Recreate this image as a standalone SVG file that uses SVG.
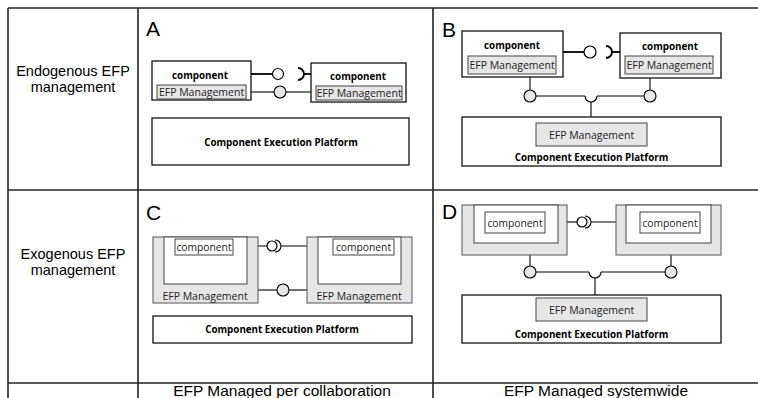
<svg xmlns="http://www.w3.org/2000/svg" width="758" height="398" viewBox="0 0 758 398">
<style>
.grid{stroke:#222;stroke-width:1.6;fill:none}
.lbl{font-family:"Liberation Sans",Arial,sans-serif;font-size:14.5px;fill:#000;text-anchor:middle}
.bl{font-family:"Liberation Sans",Arial,sans-serif;font-size:15.5px;fill:#000;text-anchor:middle}
.let{font-family:"Liberation Sans",Arial,sans-serif;font-size:21px;fill:#000}
.box{fill:#fff;stroke:#111;stroke-width:1.3}
.efp{fill:#e6e6e6;stroke:#444;stroke-width:1}
.cont{fill:#e6e6e6;stroke:#555;stroke-width:1}
.inner{fill:#fff;stroke:#444;stroke-width:1}
.t{font-family:"Open Sans","DejaVu Sans",sans-serif;font-size:10.5px;fill:#222;text-anchor:middle;dominant-baseline:central}
.tb{font-family:"Open Sans","DejaVu Sans",sans-serif;font-size:9.8px;font-weight:bold;fill:#000;text-anchor:middle;dominant-baseline:central}
.tc{font-family:"Open Sans","DejaVu Sans",sans-serif;font-size:10.3px;fill:#222;text-anchor:middle;dominant-baseline:central}
.w{stroke:#000;stroke-width:1.8;fill:none}
.n{stroke:#000;stroke-width:1.1;fill:none}
.ballw{fill:#fff;stroke:#000;stroke-width:1.2}
.ballg{fill:#e6e6e6;stroke:#000;stroke-width:1.1}
</style>
<g id="table">
<line class="grid" x1="8" y1="8" x2="758" y2="8"/>
<line class="grid" x1="8" y1="190" x2="758" y2="190"/>
<line class="grid" x1="8" y1="383" x2="758" y2="383"/>
<line class="grid" x1="8" y1="8" x2="8" y2="398"/>
<line class="grid" x1="138" y1="8" x2="138" y2="398"/>
<line class="grid" x1="433" y1="8" x2="433" y2="398"/>
<text class="lbl" x="73" y="76">Endogenous EFP</text>
<text class="lbl" x="73" y="92">management</text>
<text class="lbl" x="73" y="259">Exogenous EFP</text>
<text class="lbl" x="73" y="275">management</text>
<text class="bl" x="282" y="396">EFP Managed per collaboration</text>
<text class="bl" x="596" y="396">EFP Managed systemwide</text>
<text class="let" x="146" y="36">A</text>
<text class="let" x="442" y="37">B</text>
<text class="let" x="146" y="220">C</text>
<text class="let" x="442" y="219">D</text>
</g>
<g id="connectors">
<!-- A -->
<line class="w" x1="251" y1="74" x2="272" y2="74"/>
<circle class="ballw" cx="278" cy="74" r="5.5"/>
<path class="w" d="M298,68 A6,6 0 0,1 298,80"/>
<line class="w" x1="304" y1="74" x2="311" y2="74"/>
<line class="n" x1="246" y1="92" x2="274" y2="92"/>
<circle class="ballg" cx="280" cy="92" r="6"/>
<line class="n" x1="286" y1="92" x2="316" y2="92"/>
<!-- B -->
<line class="w" x1="563" y1="52" x2="584" y2="52"/>
<circle class="ballw" cx="590" cy="52" r="6"/>
<path class="w" d="M606,46 A6,6 0 0,1 606,58"/>
<line class="w" x1="612" y1="52" x2="620" y2="52"/>
<line class="n" x1="530" y1="74" x2="530" y2="90"/>
<circle class="ballg" cx="530" cy="96" r="6"/>
<line class="n" x1="650" y1="74" x2="650" y2="90"/>
<circle class="ballg" cx="650" cy="96" r="6"/>
<line class="n" x1="536" y1="96" x2="585" y2="96"/>
<path class="n" d="M585,96 A6,6 0 0,0 597,96"/>
<line class="n" x1="597" y1="96" x2="644" y2="96"/>
<line class="n" x1="591" y1="102" x2="591" y2="123"/>
<!-- C -->
<line class="n" x1="233" y1="246" x2="267" y2="246"/>
<circle class="ballw" cx="272" cy="246" r="5"/>
<path class="n" d="M275,240 A6,6 0 0,1 275,252"/>
<line class="n" x1="281" y1="246" x2="333" y2="246"/>
<line class="n" x1="258" y1="290" x2="277" y2="290"/>
<circle class="ballg" cx="283" cy="290" r="6"/>
<line class="n" x1="289" y1="290" x2="307" y2="290"/>
<!-- D -->
<line class="n" x1="545" y1="222" x2="577" y2="222"/>
<circle class="ballw" cx="582" cy="222" r="5"/>
<path class="n" d="M585,216 A6,6 0 0,1 585,228"/>
<line class="n" x1="591" y1="222" x2="640" y2="222"/>
<line class="n" x1="530" y1="255" x2="530" y2="266"/>
<circle class="ballg" cx="530" cy="272" r="6"/>
<line class="n" x1="671" y1="255" x2="671" y2="266"/>
<circle class="ballg" cx="671" cy="272" r="6"/>
<line class="n" x1="536" y1="272" x2="589" y2="272"/>
<path class="n" d="M589,272 A6,6 0 0,0 601,272"/>
<line class="n" x1="601" y1="272" x2="665" y2="272"/>
<line class="n" x1="595" y1="278" x2="595" y2="298"/>
</g>
<!-- Panel A -->
<g id="A-comp1">
<rect class="box" x="152" y="61" width="99" height="39"/>
<text class="tb" x="200" y="75">component</text>
<rect class="efp" x="157" y="85" width="89" height="14"/>
<text class="t" x="201.5" y="92">EFP Management</text>
</g>
<g id="A-comp2">
<rect class="box" x="311" y="63" width="95" height="39"/>
<text class="tb" x="358" y="76">component</text>
<rect class="efp" x="316" y="86" width="86" height="14"/>
<text class="t" x="359" y="93">EFP Management</text>
</g>
<g id="A-platform">
<rect class="box" x="152" y="118" width="257" height="47"/>
<text class="tb" x="281" y="142">Component Execution Platform</text>
</g>
<!-- Panel B -->
<g id="B-comp1">
<rect class="box" x="462" y="31" width="101" height="46"/>
<text class="tb" x="512" y="45">component</text>
<rect class="efp" x="468" y="56" width="88" height="18"/>
<text class="t" x="512" y="65">EFP Management</text>
</g>
<g id="B-comp2">
<rect class="box" x="620" y="33" width="101" height="45"/>
<text class="tb" x="670" y="46">component</text>
<rect class="efp" x="625" y="56" width="88" height="18"/>
<text class="t" x="669" y="65">EFP Management</text>
</g>
<g id="B-platform">
<rect class="box" x="462" y="117" width="259" height="49"/>
<rect class="efp" x="536" y="123" width="111" height="23"/>
<text class="t" x="591.5" y="135">EFP Management</text>
<text class="tb" x="591.5" y="157">Component Execution Platform</text>
</g>
<!-- Panel C -->
<g id="C-comp1">
<rect class="cont" x="153" y="237" width="105" height="66"/>
<rect class="inner" x="164" y="237" width="83" height="47"/>
<rect class="inner" x="175" y="239" width="58" height="16"/>
<text class="tc" x="204" y="247">component</text>
<text class="t" x="205" y="296">EFP Management</text>
</g>
<g id="C-comp2">
<rect class="cont" x="307" y="237" width="105" height="66"/>
<rect class="inner" x="318" y="237" width="83" height="47"/>
<rect class="inner" x="333" y="239" width="61" height="16"/>
<text class="tc" x="363.5" y="247">component</text>
<text class="t" x="359" y="296">EFP Management</text>
</g>
<g id="C-platform">
<rect class="box" x="153" y="316" width="259" height="27"/>
<text class="tb" x="282" y="329.5">Component Execution Platform</text>
</g>
<!-- Panel D -->
<g id="D-comp1">
<rect class="cont" x="462" y="205" width="105" height="50"/>
<rect class="inner" x="474" y="205" width="84" height="38"/>
<rect class="inner" x="485" y="212" width="60" height="21"/>
<text class="tc" x="515" y="223">component</text>
</g>
<g id="D-comp2">
<rect class="cont" x="616" y="205" width="105" height="50"/>
<rect class="inner" x="626" y="205" width="85" height="38"/>
<rect class="inner" x="640" y="212" width="60" height="21"/>
<text class="tc" x="670" y="223">component</text>
</g>
<g id="D-platform">
<rect class="box" x="462" y="295" width="259" height="48"/>
<rect class="efp" x="536" y="298" width="111" height="23"/>
<text class="t" x="591.5" y="310">EFP Management</text>
<text class="tb" x="591.5" y="334">Component Execution Platform</text>
</g>
</svg>
